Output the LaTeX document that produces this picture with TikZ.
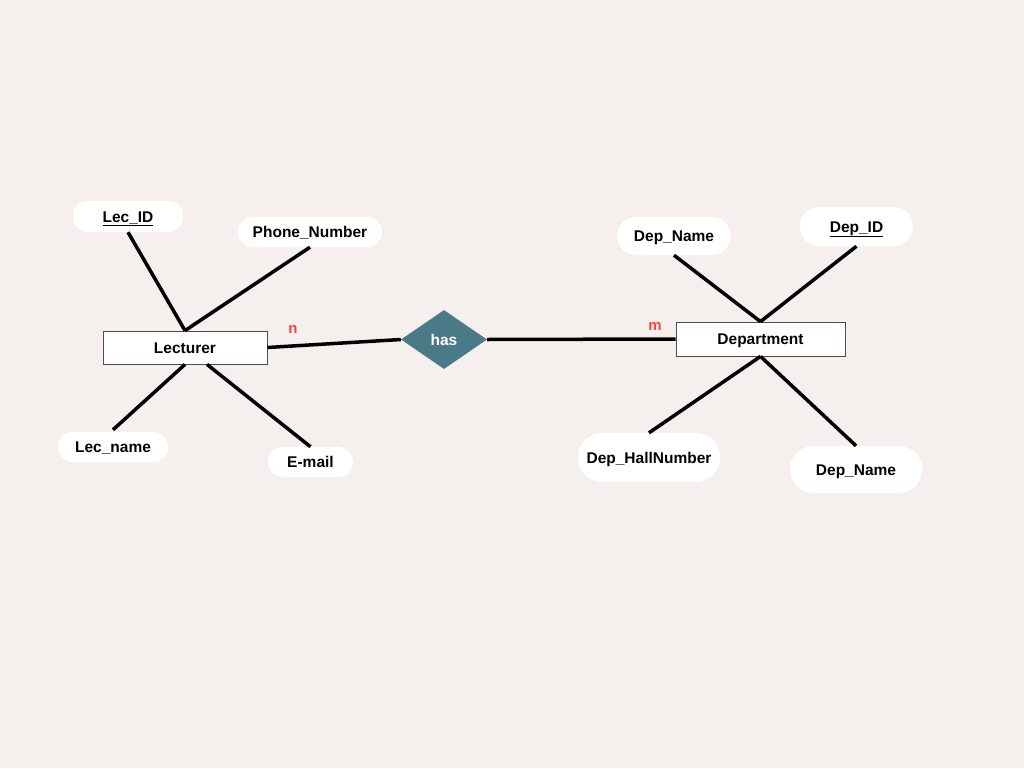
\documentclass[tikz,border=0pt]{standalone}
\usepackage{fontspec}
\setmainfont{Liberation Sans}
\usetikzlibrary{shapes.geometric}

\definecolor{bgcol}{HTML}{F5F0EE}
\definecolor{relcol}{HTML}{4A7A87}
\definecolor{cardcol}{HTML}{FF4040}

\tikzset{
  attr/.style={fill=white, rounded corners=15pt, inner sep=0pt, text height=13pt, text depth=2pt, font=\bfseries\fontsize{15.5}{17}\selectfont},
  entity/.style={fill=white, draw=black!70, line width=0.8pt, inner sep=0pt, text height=13pt, text depth=2pt, minimum width=164pt, minimum height=33pt, font=\bfseries\fontsize{15.5}{17}\selectfont},
  rel/.style={diamond, fill=relcol, text=white, inner sep=0pt, minimum width=86pt, minimum height=59pt, font=\bfseries\fontsize{15.5}{17}\selectfont},
  card/.style={text=cardcol, font=\bfseries\fontsize{15}{17}\selectfont},
  link/.style={line width=3.5pt, black}
}

\begin{document}
\begin{tikzpicture}[x=1pt,y=-1pt]
%background
\fill[bgcol] (0,0) rectangle (1024,768);

% entities and relationship
\node[entity] (lecturer) at (185,347.5) {Lecturer};
\node[entity, minimum width=169pt, minimum height=34pt] (department) at (760.5,339) {Department};
\node[rel] (has) at (444,339.5) {has};

% attributes of Lecturer
\node[attr, minimum width=110pt, minimum height=31pt] (lecid) at (128,216.5) {\underline{Lec\_ID}};
\node[attr, minimum width=144pt, minimum height=30pt] (phone) at (310,232) {Phone\_Number};
\node[attr, minimum width=110pt, minimum height=30pt] (lecname) at (113,447) {Lec\_name};
\node[attr, minimum width=85pt, minimum height=30pt] (email) at (310.5,462) {E-mail};

% attributes of Department
\node[attr, minimum width=114pt, minimum height=38pt, rounded corners=19pt] (depname) at (674,236) {Dep\_Name};
\node[attr, minimum width=113pt, minimum height=39pt, rounded corners=19pt] (depid) at (856.5,226.5) {\underline{Dep\_ID}};
\node[attr, minimum width=142pt, minimum height=49pt, rounded corners=24pt] (hall) at (649,457.5) {Dep\_HallNumber};
\node[attr, minimum width=132pt, minimum height=47pt, rounded corners=23pt] (depname2) at (856,469.5) {Dep\_Name};

% links
\draw[link] (lecid.south) -- (lecturer.north);
\draw[link] (phone.south) -- (lecturer.north);
\draw[link] (lecturer.south) -- ([yshift=2pt]lecname.north);
\draw[link] ([xshift=22pt]lecturer.south) -- (email.north);

\draw[link] (depname.south) -- (department.north);
\draw[link] (depid.south) -- (department.north);
\draw[link] (department.south) -- (hall.north);
\draw[link] (department.south) -- (depname2.north);

\draw[link] (lecturer.east) -- (has.west);
\draw[link] (has.east) -- (department.west);

% cardinalities
\node[card] (cardn) at (293,329) {n};
\node[card] (cardm) at (655,326) {m};

\end{tikzpicture}
\end{document}
